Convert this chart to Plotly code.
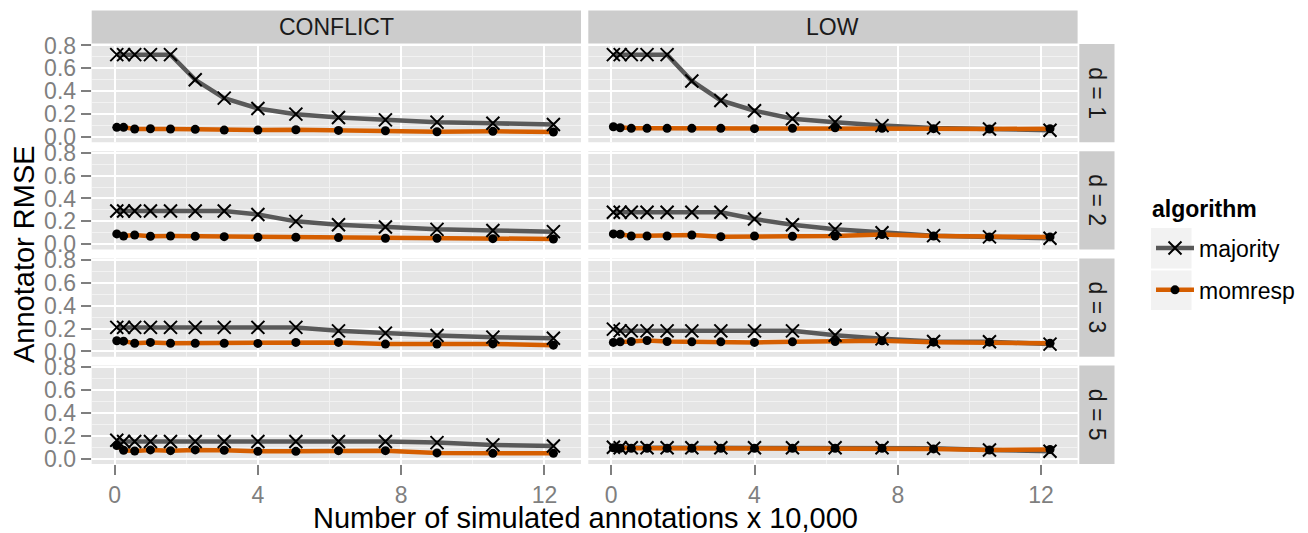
import plotly.graph_objects as go

# ---------------- data ----------------
x_vals = [0.06, 0.25, 0.56, 1.0, 1.56, 2.25, 3.06, 4.0, 5.06, 6.25, 7.56, 9.0, 10.56, 12.25]
columns = ["CONFLICT", "LOW"]
rows = ["d = 1", "d = 2", "d = 3", "d = 5"]
algorithms = ["majority", "momresp"]

conflict_d1_majority = [0.72, 0.72, 0.72, 0.72, 0.72, 0.50, 0.34, 0.25, 0.20, 0.17, 0.15, 0.13, 0.12, 0.11]
conflict_d1_momresp = [0.085, 0.085, 0.070, 0.072, 0.070, 0.067, 0.061, 0.061, 0.064, 0.058, 0.055, 0.046, 0.050, 0.044]
low_d1_majority = [0.72, 0.72, 0.72, 0.72, 0.72, 0.49, 0.32, 0.23, 0.16, 0.13, 0.10, 0.08, 0.07, 0.06]
low_d1_momresp = [0.090, 0.081, 0.076, 0.076, 0.076, 0.076, 0.076, 0.073, 0.076, 0.081, 0.076, 0.073, 0.070, 0.073]

conflict_d2_majority = [0.29, 0.29, 0.29, 0.29, 0.29, 0.29, 0.29, 0.26, 0.20, 0.17, 0.15, 0.13, 0.12, 0.11]
conflict_d2_momresp = [0.090, 0.072, 0.081, 0.070, 0.072, 0.070, 0.066, 0.061, 0.061, 0.058, 0.052, 0.052, 0.049, 0.046]
low_d2_majority = [0.28, 0.28, 0.28, 0.28, 0.28, 0.28, 0.28, 0.22, 0.17, 0.13, 0.10, 0.075, 0.064, 0.052]
low_d2_momresp = [0.090, 0.087, 0.072, 0.072, 0.072, 0.081, 0.066, 0.072, 0.070, 0.072, 0.084, 0.072, 0.064, 0.064]

conflict_d3_majority = [0.21, 0.21, 0.21, 0.21, 0.21, 0.21, 0.21, 0.21, 0.21, 0.18, 0.16, 0.14, 0.125, 0.115]
conflict_d3_momresp = [0.093, 0.090, 0.072, 0.079, 0.072, 0.072, 0.072, 0.070, 0.079, 0.079, 0.064, 0.064, 0.066, 0.055]
low_d3_majority = [0.195, 0.18, 0.18, 0.18, 0.18, 0.18, 0.18, 0.18, 0.18, 0.142, 0.11, 0.087, 0.084, 0.064]
low_d3_momresp = [0.079, 0.084, 0.087, 0.096, 0.087, 0.084, 0.084, 0.079, 0.084, 0.087, 0.093, 0.081, 0.081, 0.072]

conflict_d5_majority = [0.16, 0.15, 0.15, 0.15, 0.15, 0.15, 0.15, 0.15, 0.15, 0.15, 0.15, 0.14, 0.12, 0.11]
conflict_d5_momresp = [0.114, 0.073, 0.067, 0.076, 0.070, 0.076, 0.073, 0.064, 0.064, 0.070, 0.070, 0.050, 0.046, 0.046]
low_d5_majority = [0.10, 0.095, 0.095, 0.095, 0.095, 0.095, 0.095, 0.095, 0.095, 0.095, 0.095, 0.09, 0.075, 0.065]
low_d5_momresp = [0.095, 0.09, 0.09, 0.09, 0.09, 0.09, 0.09, 0.09, 0.09, 0.09, 0.09, 0.085, 0.075, 0.08]

panel_data = {
    (0, 0): (conflict_d1_majority, conflict_d1_momresp),
    (0, 1): (low_d1_majority, low_d1_momresp),
    (1, 0): (conflict_d2_majority, conflict_d2_momresp),
    (1, 1): (low_d2_majority, low_d2_momresp),
    (2, 0): (conflict_d3_majority, conflict_d3_momresp),
    (2, 1): (low_d3_majority, low_d3_momresp),
    (3, 0): (conflict_d5_majority, conflict_d5_momresp),
    (3, 1): (low_d5_majority, low_d5_momresp),
}

x_ticks = [0, 4, 8, 12]
y_ticks = [0.0, 0.2, 0.4, 0.6, 0.8]
y_tick_text = ["0.0", "0.2", "0.4", "0.6", "0.8"]

# ---------------- style / layout ----------------
# the page body has an 8px margin, so the figure is 8px smaller each way
# and positions below are given in window pixels, shifted by OFF.
OFF = 8
W, H = 1308 - OFF, 533 - OFF
FONT = "Liberation Sans, Arial, Helvetica, sans-serif"
GREY_LINE = "#595959"
ORANGE = "#D55E00"
line_colors = {"majority": GREY_LINE, "momresp": ORANGE}

col_px = [(91.7, 581.0), (588.3, 1077.6)]
row_top0, row_h, row_step = 44.0, 98.3, 107.2
x_range = [-0.64, 13.02]
y_range = [-0.046, 0.813]


def fx(p):
    return (p - OFF) / W


def fy(p):
    return 1 - (p - OFF) / H


fig = go.Figure()
layout = {}

for r in range(4):
    for c in range(2):
        i = r * 2 + c + 1
        xa = "x" if i == 1 else f"x{i}"
        ya = "y" if i == 1 else f"y{i}"
        xkey = "xaxis" if i == 1 else f"xaxis{i}"
        ykey = "yaxis" if i == 1 else f"yaxis{i}"
        top = row_top0 + r * row_step
        bot = top + row_h
        bottom_row = (r == 3)
        left_col = (c == 0)
        layout[xkey] = dict(
            domain=[fx(col_px[c][0]), fx(col_px[c][1])],
            anchor=ya, range=x_range, tickvals=x_ticks, automargin=False,
            showticklabels=bottom_row,
            ticks="outside" if bottom_row else "", ticklen=10, tickwidth=2.2,
            tickcolor="#7F7F7F",
            tickfont=dict(family=FONT, size=23, color="#7F7F7F"),
            showgrid=True, gridcolor="white", gridwidth=2.2,
            minor=dict(tickvals=[2, 6, 10], showgrid=True, gridcolor="#F2F2F2", gridwidth=1, ticks=""),
            zeroline=False, showline=False,
        )
        layout[ykey] = dict(
            domain=[fy(bot), fy(top)],
            anchor=xa, range=y_range, tickvals=y_ticks, ticktext=y_tick_text, automargin=False,
            showticklabels=left_col,
            ticks="outside" if left_col else "", ticklen=10, tickwidth=2.2,
            tickcolor="#7F7F7F",
            tickfont=dict(family=FONT, size=23, color="#7F7F7F"),
            showgrid=True, gridcolor="white", gridwidth=2.2,
            minor=dict(tickvals=[0.1, 0.3, 0.5, 0.7], showgrid=True, gridcolor="#F2F2F2", gridwidth=1, ticks=""),
            zeroline=False, showline=False,
        )
        maj, mom = panel_data[(r, c)]
        # lines first (like ggplot geom_line), then points
        for name, vals in zip(algorithms, (maj, mom)):
            fig.add_trace(go.Scatter(
                x=x_vals, y=vals, mode="lines", xaxis=xa, yaxis=ya,
                line=dict(color=line_colors[name], width=4.5),
                showlegend=False, hoverinfo="skip"))
        fig.add_trace(go.Scatter(
            x=x_vals, y=maj, mode="markers", xaxis=xa, yaxis=ya,
            marker=dict(symbol="x-thin-open", size=13, color="black",
                        line=dict(color="black", width=2)),
            showlegend=False))
        fig.add_trace(go.Scatter(
            x=x_vals, y=mom, mode="markers", xaxis=xa, yaxis=ya,
            marker=dict(symbol="circle", size=9, color="black", line=dict(width=0)),
            showlegend=False))

# legend entries
fig.add_trace(go.Scatter(
    x=[None], y=[None], mode="lines+markers", name="majority",
    line=dict(color=GREY_LINE, width=4.5),
    marker=dict(symbol="x-thin-open", size=13, color="black", line=dict(color="black", width=2)),
    legendgroup="a"))
fig.add_trace(go.Scatter(
    x=[None], y=[None], mode="lines+markers", name="momresp",
    line=dict(color=ORANGE, width=4.5),
    marker=dict(symbol="circle", size=9, color="black"),
    legendgroup="b"))

shapes = []
annotations = []
# panel backgrounds
for r in range(4):
    for c in range(2):
        top = row_top0 + r * row_step
        bot = top + row_h
        shapes.append(dict(type="rect", xref="paper", yref="paper",
                           x0=fx(col_px[c][0]), x1=fx(col_px[c][1]),
                           y0=fy(bot), y1=fy(top),
                           fillcolor="#E5E5E5", line=dict(width=0), layer="below"))
# column strips
for c, lab in enumerate(columns):
    shapes.append(dict(type="rect", xref="paper", yref="paper",
                       x0=fx(col_px[c][0]), x1=fx(col_px[c][1]),
                       y0=fy(43.6), y1=fy(10.5),
                       fillcolor="#CCCCCC", line=dict(width=0), layer="below"))
    annotations.append(dict(text=lab, xref="paper", yref="paper",
                            x=fx((col_px[c][0] + col_px[c][1]) / 2), y=fy(27),
                            showarrow=False, xanchor="center", yanchor="middle",
                            font=dict(family=FONT, size=23, color="#1A1A1A")))
# row strips
for r, lab in enumerate(rows):
    top = row_top0 + r * row_step
    bot = top + row_h
    shapes.append(dict(type="rect", xref="paper", yref="paper",
                       x0=fx(1079.3), x1=fx(1114.5), y0=fy(bot), y1=fy(top),
                       fillcolor="#CCCCCC", line=dict(width=0), layer="below"))
    annotations.append(dict(text=lab, xref="paper", yref="paper",
                            x=fx(1097), y=fy((top + bot) / 2), textangle=90,
                            showarrow=False, xanchor="center", yanchor="middle",
                            font=dict(family=FONT, size=23, color="#1A1A1A")))
# legend key boxes
for y0, y1 in [(228, 268.5), (270.5, 310)]:
    shapes.append(dict(type="rect", xref="paper", yref="paper",
                       x0=fx(1151), x1=fx(1191.5), y0=fy(y1), y1=fy(y0),
                       fillcolor="#F2F2F2", line=dict(width=0), layer="below"))

# legend title
annotations.append(dict(text="<b>algorithm</b>", xref="paper", yref="paper",
                        x=fx(1150), y=fy(209), showarrow=False, xanchor="left", yanchor="middle",
                        font=dict(family=FONT, size=23, color="black")))
# axis titles
annotations.append(dict(text="Number of simulated annotations x 10,000", xref="paper", yref="paper",
                        x=fx(585), y=fy(518), showarrow=False, xanchor="center", yanchor="middle",
                        font=dict(family=FONT, size=29, color="black")))
annotations.append(dict(text="Annotator RMSE", xref="paper", yref="paper",
                        x=fx(24), y=fy(254), textangle=-90, showarrow=False,
                        xanchor="center", yanchor="middle",
                        font=dict(family=FONT, size=29, color="black")))

fig.update_layout(
    width=W, height=H,
    margin=dict(l=0, r=0, t=0, b=0, pad=0, autoexpand=False),
    paper_bgcolor="white", plot_bgcolor="rgba(0,0,0,0)",
    shapes=shapes, annotations=annotations,
    showlegend=True,
    legend=dict(
        x=fx(1151), y=fy(269), xanchor="left", yanchor="middle",
        font=dict(family=FONT, size=23, color="black"),
        bgcolor="rgba(0,0,0,0)", traceorder="grouped", tracegroupgap=9,
        itemwidth=38,
    ),
    **layout,
)

fig.write_html("out.html")
